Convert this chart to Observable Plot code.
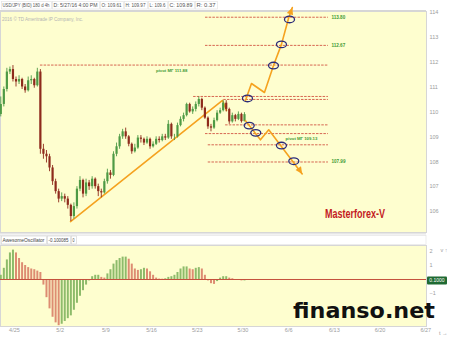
<!DOCTYPE html>
<html><head><meta charset="utf-8">
<script src="https://cdn.jsdelivr.net/npm/d3@7"></script>
<script src="https://cdn.jsdelivr.net/npm/@observablehq/plot@0.6"></script>
<style>
html,body{margin:0;padding:0;background:#fff;}
#wrap{position:relative;width:450px;height:337px;overflow:hidden;font-family:"Liberation Sans",Arial,sans-serif;}
#wrap > svg{position:absolute;left:0;}
</style></head><body><div id="wrap"></div>
<script>
// ---------- data ----------
// 8-hour bars, trading-day axis (0 = Mon 4/25)
const firstBarDay = -1.5;
const barStepDays = 1 / 3;
const candleOpen = [109.9,110.3,110.9,111.6,111.7,111.3,111.2,111.3,111.0,110.85,111.25,111.3,111.05,111.6,108.5,108.3,108.2,107.75,107.2,106.8,106.5,106.6,106.5,106.25,105.8,106.2,106.9,107.25,106.7,107.15,107.0,107.3,107.0,106.8,106.75,107.2,107.55,107.45,108.3,108.6,109.0,109.2,109.0,108.7,108.4,108.55,108.95,108.9,108.75,108.9,108.6,108.7,108.9,108.85,109.0,108.95,109.5,109.0,109.0,109.45,109.7,109.85,110.3,110.0,110.1,110.3,110.5,110.15,109.75,109.4,109.35,109.65,109.95,110.05,110.35,110.1,109.6,109.85,109.7,109.9,109.61];
const candleHigh = [110.6,111.0,111.75,111.8,111.86,111.4,111.45,111.35,111.1,111.4,111.45,111.35,111.75,111.7,108.7,108.45,108.3,107.85,107.3,106.9,106.75,106.7,106.6,106.3,106.35,107.0,107.4,107.3,107.3,107.25,107.4,107.35,107.1,106.9,107.3,107.7,107.65,108.4,108.75,109.1,109.3,109.35,109.05,108.75,108.7,109.05,109.05,108.95,109.0,108.95,108.8,109.0,109.0,109.1,109.1,109.65,109.55,109.1,109.55,109.8,109.95,110.35,110.35,110.2,110.4,110.6,110.55,110.2,109.8,109.5,109.75,110.05,110.15,110.45,110.45,110.15,109.95,109.9,110.0,109.95,109.97];
const candleLow = [109.8,110.2,110.8,111.5,111.2,111.0,111.1,110.9,110.75,110.8,111.1,110.95,111.0,108.3,108.1,107.95,107.6,107.05,106.7,106.35,106.4,106.35,106.1,105.6,105.7,106.1,106.8,106.55,106.6,106.85,106.9,106.9,106.6,106.55,106.7,107.1,107.3,107.4,108.2,108.5,108.9,108.9,108.6,108.3,108.35,108.5,108.75,108.65,108.7,108.5,108.55,108.65,108.75,108.8,108.85,108.9,108.9,108.85,108.95,109.4,109.6,109.8,109.95,109.9,110.0,110.2,110.05,109.7,109.3,109.2,109.3,109.6,109.9,110.0,110.0,109.5,109.55,109.6,109.65,109.55,109.6];
const candleClose = [110.3,110.9,111.6,111.7,111.3,111.2,111.3,111.0,110.85,111.25,111.3,111.05,111.6,108.5,108.3,108.2,107.75,107.2,106.8,106.5,106.6,106.5,106.25,105.8,106.2,106.9,107.25,106.7,107.15,107.0,107.3,107.0,106.8,106.75,107.2,107.55,107.45,108.3,108.6,109.0,109.2,109.0,108.7,108.4,108.55,108.95,108.9,108.75,108.9,108.6,108.7,108.9,108.85,109.0,108.95,109.5,109.0,109.0,109.45,109.7,109.85,110.3,110.0,110.1,110.3,110.5,110.15,109.75,109.4,109.35,109.65,109.95,110.05,110.35,110.1,109.6,109.85,109.7,109.9,109.61,109.89];
const aoValues = [0.3,0.8,1.4,1.9,2.1,1.9,1.5,1.2,1.0,0.85,0.75,0.7,0.6,0.5,-0.4,-1.3,-2.1,-2.7,-3.1,-3.3,-3.2,-3.0,-2.8,-2.6,-2.2,-1.7,-1.2,-0.8,-0.4,-0.1,0.2,0.3,0.3,0.15,0.1,0.4,0.7,1.1,1.35,1.5,1.6,1.6,1.45,1.1,0.75,0.65,0.7,0.8,0.75,0.55,0.3,0.1,0.03,0.02,0.05,0.15,0.2,0.3,0.5,0.75,0.9,0.9,0.75,0.7,0.8,0.85,0.75,0.3,-0.1,-0.3,-0.35,-0.15,0.1,0.2,0.2,0.1,0.05,-0.05,-0.05,-0.1,-0.1];

// horizontal levels
const levelPrice = [113.80, 112.67, 111.88, 110.62, 110.50, 109.48, 109.13, 108.68, 107.99];
const levelStart = [20.9, 20.9, 2.84, 19.6, 22.9, 23.1, 20.9, 21.2, 21.2];
const levelEnd = 34.35;
const endLabelPrice = [113.80, 112.67, 107.99];
const endLabelText = ["113.80", "112.67", "107.99"];
const pivotLabelPrice = [111.88, 109.13];
const pivotLabelDay = [17.2, 31.4];
const pivotLabelText = ["pivot МГ 111.88", "pivot МГ 109.13"];

// trend line and projections
const trendDay = [6.13, 22.76, 23.2];
const trendPrice = [105.6, 110.46, 110.06];
const upPathDay = [25.27, 25.93, 27.35, 28.34, 29.21, 29.98, 30.4];
const upPathPrice = [110.46, 111.14, 110.78, 111.86, 112.71, 113.75, 114.19];
const downPathDay = [25.27, 26.91, 27.82, 31.48];
const downPathPrice = [109.65, 108.88, 109.28, 107.51];
const ellipseDay = [25.49, 28.34, 29.21, 30.09, 25.68, 26.4, 29.21, 30.56];
const ellipsePrice = [110.54, 111.86, 112.71, 113.71, 109.45, 109.16, 108.65, 108.02];

// axes
const priceTicks = [106, 107, 108, 109, 110, 111, 112, 113, 114];
const aoTicks = [2, 1, -1];
const dateTickDays = [0, 5, 10, 15, 20, 25, 30, 35, 40, 45];
const dateTickLabels = ["4/25", "5/2", "5/9", "5/16", "5/23", "5/30", "6/6", "6/13", "6/20", "6/27"];

const headerTexts = ["USD/JPY (BID) 180 d 4h", "D: 5/27/16 4:00 PM", "O: 109.61", "H: 109.97", "L: 109.6", "C: 109.89", "R: 0.37"];
const oscHeaderTexts = ["AwesomeOscillator", "-0.100085", "0"];

// ---------- build ----------
const YELLOW = "#fefecf";
const ORANGE = "#f5a21f";
const NAVY = "#2a2a78";
const GREENTXT = "#3f9a35";
const UPC = "#4e9a45", DNC = "#8e2b1c";

const n = Math.min(candleOpen.length, candleHigh.length, candleLow.length, candleClose.length);
const candles = d3.range(n).map(i => ({
  t: firstBarDay + i * barStepDays, o: candleOpen[i], h: candleHigh[i], l: candleLow[i], c: candleClose[i]
}));
const aoRows = aoValues.map((v, i) => ({t: firstBarDay + i * barStepDays, v, up: i === 0 ? true : v >= aoValues[i - 1]}));
const levels = levelPrice.map((p, i) => ({p, s: levelStart[i]}));
const endLabels = endLabelPrice.map((p, i) => ({p, text: endLabelText[i]}));
const pivotLabels = pivotLabelPrice.map((p, i) => ({p, t: pivotLabelDay[i], text: pivotLabelText[i]}));
const trend = trendDay.map((t, i) => ({t, p: trendPrice[i]}));
const upPath = upPathDay.map((t, i) => ({t, p: upPathPrice[i]}));
const downPath = downPathDay.map((t, i) => ({t, p: downPathPrice[i]}));
const ellipses = ellipseDay.map((t, i) => ({t, p: ellipsePrice[i]}));

const ellipseSymbol = {
  draw(ctx) {
    const rx = 5, ry = 3.3, kx = rx * 0.5523, ky = ry * 0.5523;
    ctx.moveTo(rx, 0);
    ctx.bezierCurveTo(rx, ky, kx, ry, 0, ry);
    ctx.bezierCurveTo(-kx, ry, -rx, ky, -rx, 0);
    ctx.bezierCurveTo(-rx, -ky, -kx, -ry, 0, -ry);
    ctx.bezierCurveTo(kx, -ry, rx, -ky, rx, 0);
    ctx.closePath();
  }
};
function arrowSymbol(deg) {
  const a = deg * Math.PI / 180, L = 7, W = 3.3;
  const cx = -L * Math.cos(a), cy = -L * Math.sin(a);
  const px = -Math.sin(a) * W, py = Math.cos(a) * W;
  return {draw(ctx) {
    ctx.moveTo(0, 0);
    ctx.lineTo(cx + px, cy + py);
    ctx.lineTo(cx - px, cy - py);
    ctx.closePath();
  }};
}

const xDomain = [-1.53, 45.08];
const font = "'Liberation Sans', Arial, sans-serif";

const mainChart = Plot.plot({
  width: 450, height: 234,
  marginLeft: 0, marginRight: 24, marginTop: 11, marginBottom: 2,
  x: {domain: xDomain, axis: null},
  y: {domain: [105.16, 114.03], axis: null},
  color: {type: "identity"},
  style: {background: "transparent", overflow: "visible", fontFamily: font, fontSize: "5.5px"},
  marks: [
    Plot.frame({fill: YELLOW, stroke: "#d6d6d6"}),
    Plot.axisY(priceTicks, {anchor: "right", tickSize: 0, tickPadding: 3, fill: "#9c9c9c", fontSize: 5.5}),
    Plot.ruleY(levels, {y: "p", x1: "s", x2: () => levelEnd, stroke: "#cf4b3b", strokeWidth: 1, strokeDasharray: "2.5,1.2", strokeOpacity: 0.85}),
    Plot.line(trend, {x: "t", y: "p", stroke: ORANGE, strokeWidth: 1.6}),
    Plot.ruleX(candles, {x: "t", y1: "l", y2: "h", stroke: d => d.c >= d.o ? UPC : DNC, strokeWidth: 0.9}),
    Plot.ruleX(candles, {x: "t", y1: "o", y2: "c", stroke: d => d.c >= d.o ? UPC : DNC, strokeWidth: 2.2}),
    Plot.line(upPath, {x: "t", y: "p", stroke: ORANGE, strokeWidth: 1.6}),
    Plot.line(downPath, {x: "t", y: "p", stroke: ORANGE, strokeWidth: 1.6}),
    Plot.dot(upPath.slice(-1), {x: "t", y: "p", symbol: arrowSymbol(-70), fill: ORANGE, stroke: "none"}),
    Plot.dot(downPath.slice(-1), {x: "t", y: "p", symbol: arrowSymbol(56), fill: ORANGE, stroke: "none"}),
    Plot.dot(ellipses, {x: "t", y: "p", symbol: ellipseSymbol, fill: "none", stroke: NAVY, strokeWidth: 1.3}),
    Plot.text(endLabels, {x: () => levelEnd, y: "p", text: "text", dx: 3, textAnchor: "start", fill: GREENTXT, fontWeight: "bold", fontSize: 4.6}),
    Plot.text(pivotLabels, {x: "t", y: "p", text: "text", dy: 5.5, fill: GREENTXT, fontWeight: "bold", fontSize: 4.3})
  ]
});

const oscChart = Plot.plot({
  width: 450, height: 92,
  marginLeft: 0, marginRight: 24, marginTop: 0, marginBottom: 11,
  x: {domain: xDomain, axis: null},
  y: {domain: [-3.36, 2.43], axis: null},
  color: {type: "identity"},
  style: {background: "transparent", overflow: "visible", fontFamily: font, fontSize: "5.5px"},
  marks: [
    Plot.frame({fill: YELLOW, stroke: "#d6d6d6"}),
    Plot.ruleX(aoRows, {x: "t", y1: 0, y2: "v", stroke: d => d.up ? "#8dbb6a" : "#dd8c72", strokeWidth: 2}),
    Plot.ruleY([0], {stroke: "#c4503c", strokeWidth: 1}),
    Plot.axisY(aoTicks, {anchor: "right", tickSize: 0, tickPadding: 3, fill: "#9c9c9c", fontSize: 5.5}),
    Plot.axisX(dateTickDays, {anchor: "bottom", tickSize: 0, tickPadding: 2, fill: "#9c9c9c", fontSize: 5.5,
      tickFormat: d => dateTickLabels[dateTickDays.indexOf(d)]})
  ]
});

// ---------- page ----------
const wrap = d3.select("#wrap");
const under = wrap.append("svg").attr("width", 450).attr("height", 337).style("top", "0px")
  .attr("font-family", font);
under.append("rect").attr("x", 0).attr("y", 0).attr("width", 450).attr("height", 10).attr("fill", "#fff");
under.append("line").attr("x1", 0).attr("x2", 426).attr("y1", 10.5).attr("y2", 10.5).attr("stroke", "#d6d6d6");
const hx = [1, 52, 100, 124, 148, 168, 195];
const hw = [50, 47, 23, 23, 19, 26, 22];
headerTexts.forEach((t, i) => {
  under.append("rect").attr("x", hx[i] + 0.5).attr("y", 1.5).attr("width", hw[i]).attr("height", 7.5)
    .attr("fill", "#fff").attr("stroke", "#e0e0e0").attr("stroke-width", 0.6);
  under.append("text").attr("x", hx[i] + 1.5).attr("y", 7.3).attr("font-size", 5).attr("fill", "#555")
    .attr("textLength", hw[i] - 3).attr("lengthAdjust", "spacingAndGlyphs").text(t);
});
under.append("rect").attr("x", 0).attr("y", 232.5).attr("width", 426).attr("height", 2).attr("fill", "#e6e6e6");
under.append("rect").attr("x", 0.5).attr("y", 235.5).attr("width", 425.5).attr("height", 9).attr("fill", "#fff").attr("stroke", "#e0e0e0").attr("stroke-width", 0.6);
const ox = [1, 47, 71], ow = [45, 23, 5];
oscHeaderTexts.forEach((t, i) => {
  under.append("rect").attr("x", ox[i] + 0.5).attr("y", 236).attr("width", ow[i]).attr("height", 8)
    .attr("fill", "#fff").attr("stroke", "#d0d0d0").attr("stroke-width", 0.6);
  under.append("text").attr("x", ox[i] + 1.5).attr("y", 242).attr("font-size", 5).attr("fill", "#444")
    .attr("textLength", Math.max(2, ow[i] - 3)).attr("lengthAdjust", "spacingAndGlyphs").text(t);
});

wrap.node().appendChild(mainChart);
d3.select(mainChart).style("position", "absolute").style("top", "0px").style("left", "0px");
wrap.node().appendChild(oscChart);
d3.select(oscChart).style("position", "absolute").style("top", "245px").style("left", "0px");

const overlay = wrap.append("svg").attr("width", 450).attr("height", 337).style("top", "0px")
  .attr("font-family", font);
overlay.append("text").attr("x", 2).attr("y", 20.5).attr("font-size", 5).attr("fill", "#b4b4b4")
  .attr("textLength", 81).attr("lengthAdjust", "spacingAndGlyphs").text("2016 © TD Ameritrade IP Company, Inc.");
overlay.append("text").attr("x", 325).attr("y", 217.5).attr("font-size", 12).attr("font-weight", "bold")
  .attr("fill", "#c31a1f").attr("textLength", 60).attr("lengthAdjust", "spacingAndGlyphs").text("Masterforex-V");
overlay.append("rect").attr("x", 427).attr("y", 276.5).attr("width", 20).attr("height", 8).attr("rx", 1).attr("fill", "#1f6a33");
overlay.append("text").attr("x", 437).attr("y", 282.3).attr("font-size", 5).attr("fill", "#fff").attr("text-anchor", "middle").text("0.1000");
overlay.append("text").attr("x", 293).attr("y", 318).attr("font-size", 22).attr("font-weight", "bold")
  .attr("font-family", "'DejaVu Sans', sans-serif").attr("fill", "#111")
  .attr("textLength", 142).attr("lengthAdjust", "spacingAndGlyphs").text("finanso.net");
</script></body></html>
